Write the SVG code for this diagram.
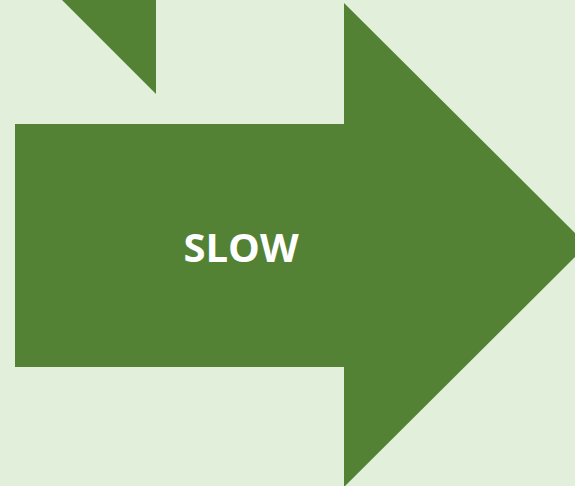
<svg xmlns="http://www.w3.org/2000/svg" width="575" height="486" viewBox="0 0 575 486">
<style>
.shape{fill:#548235;}
.label{fill:#FFFFFF;font-family:"Open Sans","Liberation Sans",sans-serif;font-weight:bold;font-size:40px;}
</style>
<rect x="0" y="0" width="575" height="486" fill="#E2EFDA"/>
<g id="triangle">
<polygon class="shape" points="62,0 156,0 156,94"/>
</g>
<g id="arrow">
<polygon class="shape" points="15,124 344,124 344,3 587,245 344,487 344,367 15,367"/>
<text class="label" x="241" y="262" text-anchor="middle">SLOW</text>
</g>
<g id="connectors"></g>
</svg>
